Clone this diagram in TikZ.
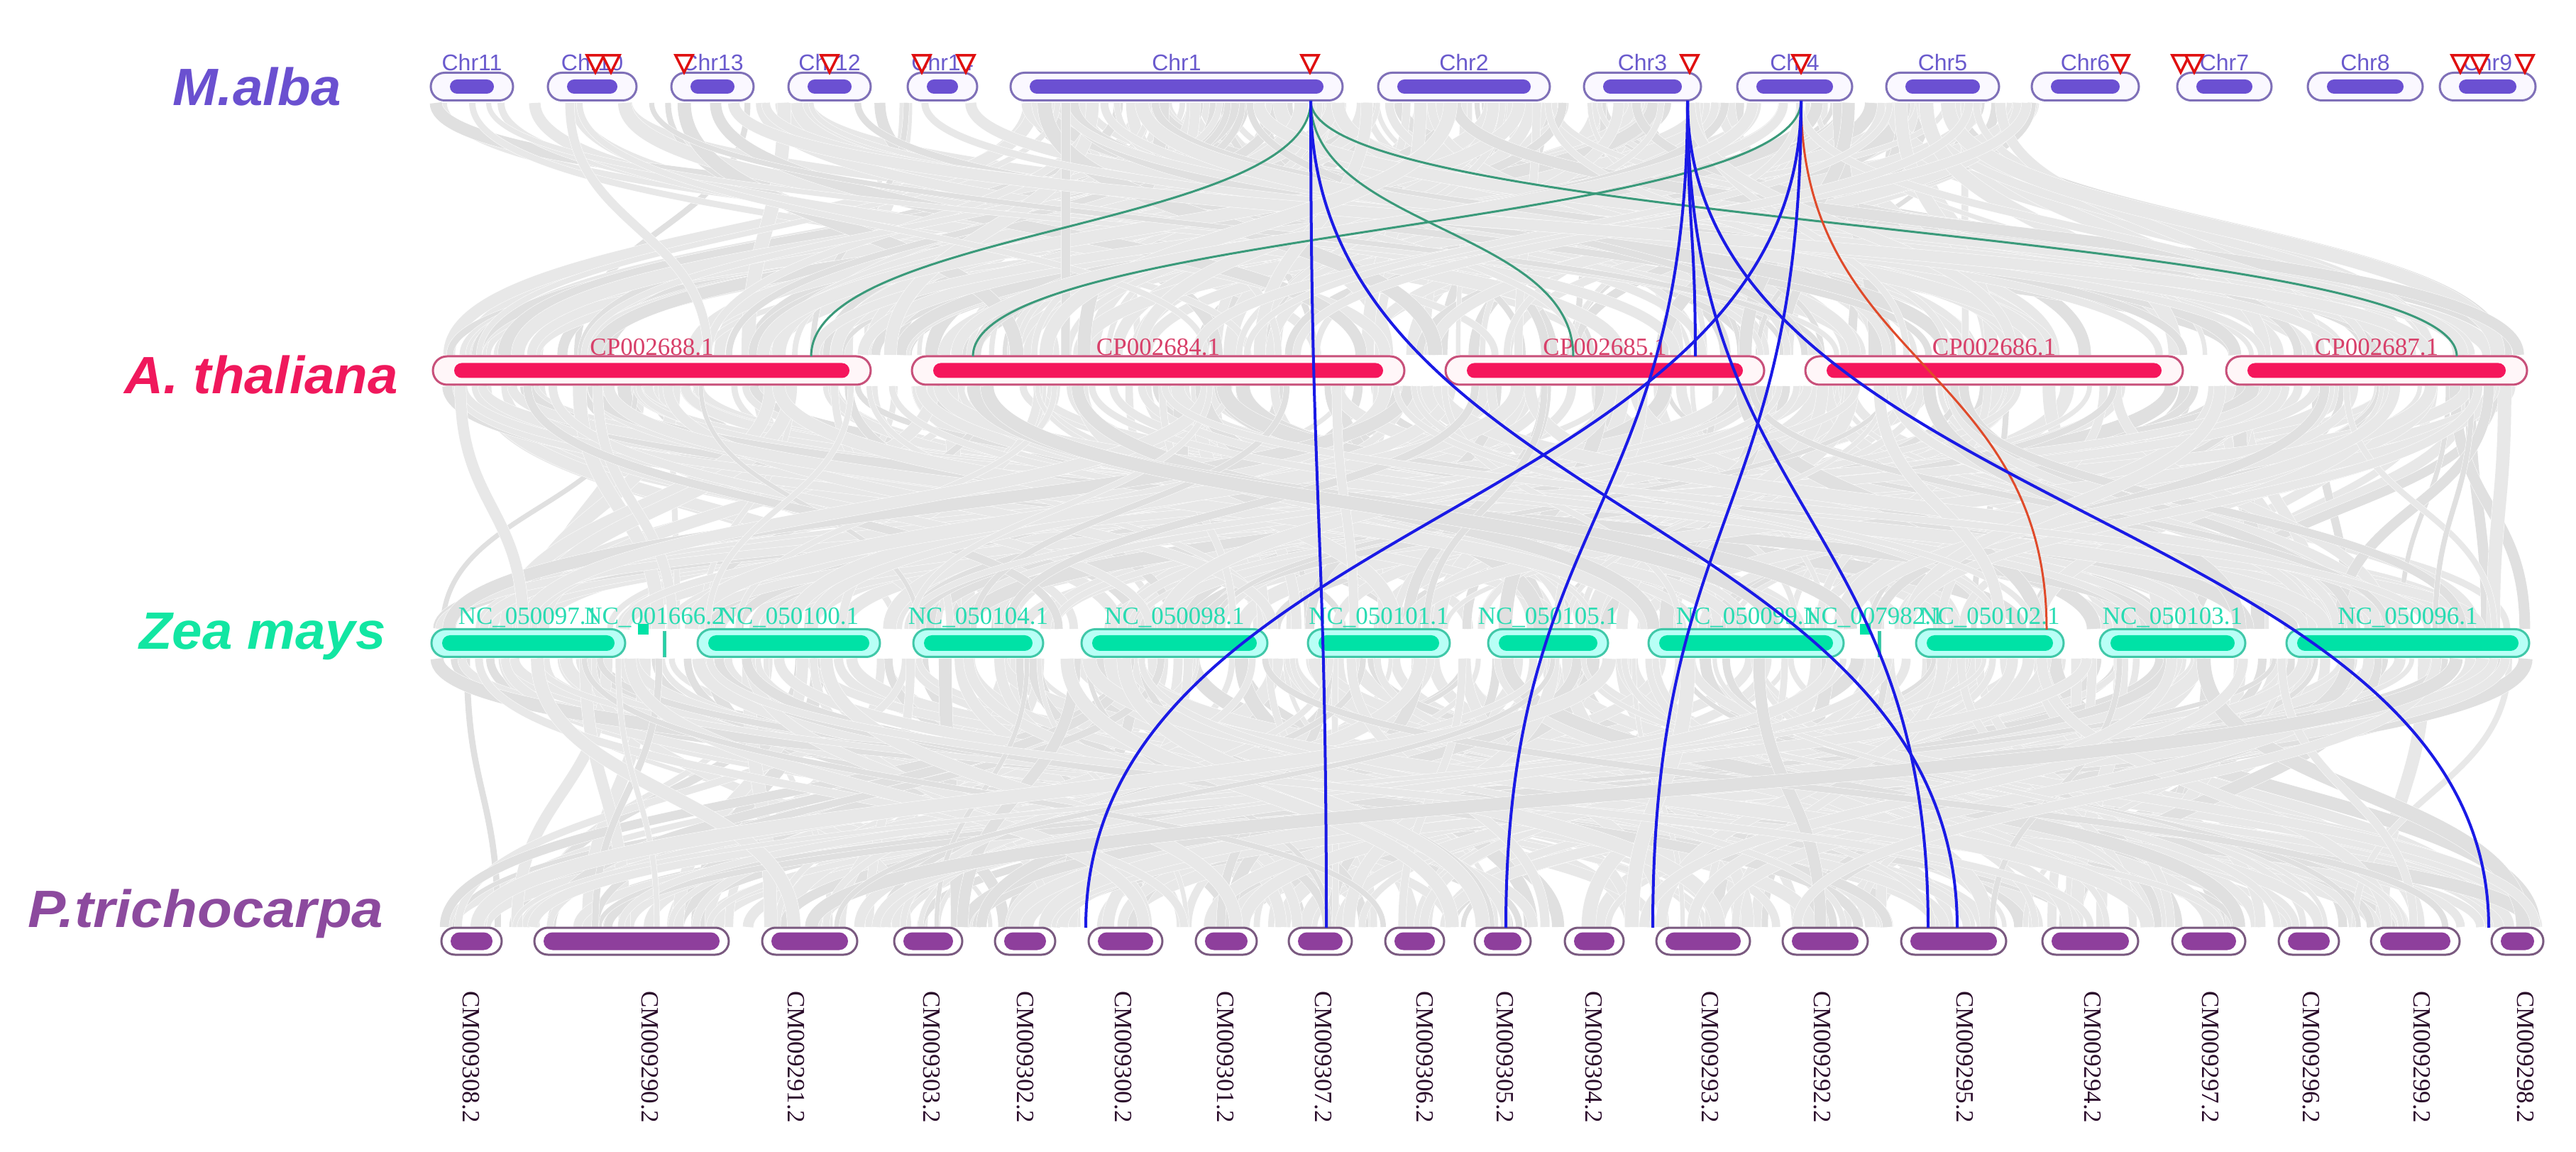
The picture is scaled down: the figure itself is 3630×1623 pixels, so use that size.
\documentclass[tikz,border=0pt]{standalone}
\usepackage{fontspec}
\setmainfont{Liberation Serif}
\newfontfamily\arialf{Liberation Sans}
\definecolor{caedge}{HTML}{7F70B8}\definecolor{cabg}{HTML}{FAF8FF}\definecolor{cafill}{HTML}{6B50D2}\definecolor{catxt}{HTML}{6A5ACD}\definecolor{casp}{HTML}{6A50D0}
\definecolor{cbedge}{HTML}{C8507A}\definecolor{cbbg}{HTML}{FFF6F8}\definecolor{cbfill}{HTML}{F5165C}\definecolor{cbtxt}{HTML}{D8406A}\definecolor{cbsp}{HTML}{F0185C}
\definecolor{ccedge}{HTML}{40C8A8}\definecolor{ccbg}{HTML}{B8FFF6}\definecolor{ccfill}{HTML}{00E2A6}\definecolor{cctxt}{HTML}{28DCB2}\definecolor{ccsp}{HTML}{12E6A2}
\definecolor{cdedge}{HTML}{7A5A80}\definecolor{cdbg}{HTML}{FFFFFF}\definecolor{cdfill}{HTML}{8E3F9C}\definecolor{cdtxt}{HTML}{2A0A2A}\definecolor{cdsp}{HTML}{8C4A9E}
\definecolor{lkblue}{HTML}{1A1AE6}\definecolor{lkgreen}{HTML}{3A9A7A}\definecolor{lkred}{HTML}{E04A2A}\definecolor{trired}{HTML}{E01010}
\definecolor{gband}{HTML}{E8E8E8}\definecolor{gbandd}{HTML}{E0E0E0}
\newcommand\mkchr[7]{%
  \pgfmathsetmacro\cxx{(#2+#3)/2}%
  \node[#5, minimum width={(#3-#2)*0.2pt}] (#1) at (\cxx,#4) {};%
  \node[#6, minimum width={(#3-#2-2*#7)*0.2pt}] (#1-in) at (\cxx,#4) {};%
}
\begin{document}
\begin{tikzpicture}[x=0.2pt,y=-0.2pt,
  glink/.style={draw=white, line width=0.1pt, double=gband},
  glinkd/.style={draw=white, line width=0.1pt, double=gbandd},
  aout/.style={draw=caedge, fill=cabg, line width=0.6pt, rounded corners=3.9pt, minimum height=7.8pt, inner sep=0pt},
  ain/.style={fill=cafill, rounded corners=2pt, minimum height=4pt, inner sep=0pt},
  bout/.style={draw=cbedge, fill=cbbg, line width=0.6pt, rounded corners=4pt, minimum height=8pt, inner sep=0pt},
  bin/.style={fill=cbfill, rounded corners=2.1pt, minimum height=4.2pt, inner sep=0pt},
  cout/.style={draw=ccedge, fill=ccbg, line width=0.6pt, rounded corners=3.9pt, minimum height=7.8pt, inner sep=0pt},
  cin/.style={fill=ccfill, rounded corners=2.2pt, minimum height=4.4pt, inner sep=0pt},
  dout/.style={draw=cdedge, fill=cdbg, line width=0.6pt, rounded corners=3.8pt, minimum height=7.6pt, inner sep=0pt},
  din/.style={fill=cdfill, rounded corners=2.5pt, minimum height=5pt, inner sep=0pt},
  alab/.style={font=\arialf\fontsize{6.4pt}{7pt}\selectfont, text=catxt, inner sep=0pt},
  blab/.style={font=\fontsize{7pt}{8pt}\selectfont, text=cbtxt, inner sep=0pt},
  clab/.style={font=\fontsize{7pt}{8pt}\selectfont, text=cctxt, inner sep=0pt},
  dlab/.style={font=\fontsize{7pt}{8pt}\selectfont, text=cdtxt, inner sep=0pt, rotate=-90, anchor=west},
  splab/.style={font=\arialf\bfseries\itshape\fontsize{14.8pt}{16pt}\selectfont, inner sep=0pt},
  bluelk/.style={draw=lkblue, line width=0.8pt},
  greenlk/.style={draw=lkgreen, line width=0.6pt},
  redlk/.style={draw=lkred, line width=0.6pt},
  tri/.style={draw=trired, fill=white, line width=0.7pt, line join=miter}
]
\useasboundingbox[fill=white] (0,0) rectangle (3630,1623);

% ---------- background gray synteny links ----------
\pgfmathsetseed{11}
\foreach \i in {1,...,240}{
  \pgfmathsetmacro\xa{ifthenelse(rnd<0.15, 612+rnd*760, 1430+rnd*1450)}
  \pgfmathsetmacro\xb{615+rnd*2940}
  \pgfmathsetmacro\w{1.2+rnd*2.8}
  \pgfmathsetmacro\sty{ifthenelse(rnd<0.3,"glinkd","glink")}
  \draw[\sty, double distance=\w pt] (\xa,145) .. controls (\xa,322) and (\xb,322) .. (\xb,500);
}
\foreach \i in {1,...,300}{
  \pgfmathsetmacro\xa{615+rnd*2940}
  \pgfmathsetmacro\xb{612+rnd*2950}
  \pgfmathsetmacro\w{1.2+rnd*2.8}
  \pgfmathsetmacro\sty{ifthenelse(rnd<0.3,"glinkd","glink")}
  \draw[\sty, double distance=\w pt] (\xa,544) .. controls (\xa,715) and (\xb,715) .. (\xb,886);
}
\foreach \i in {1,...,300}{
  \pgfmathsetmacro\xa{612+rnd*2950}
  \pgfmathsetmacro\xb{625+rnd*2955}
  \pgfmathsetmacro\w{1.2+rnd*2.8}
  \pgfmathsetmacro\sty{ifthenelse(rnd<0.3,"glinkd","glink")}
  \draw[\sty, double distance=\w pt] (\xa,928) .. controls (\xa,1117) and (\xb,1117) .. (\xb,1306);
}

% ---------- species labels ----------
\node[splab, text=casp, xscale=1.03] (spA) at (362,122) {M.alba};
\node[splab, text=cbsp, xscale=1.03] (spB) at (368,528) {A. thaliana};
\node[splab, text=ccsp, xscale=1.03] (spC) at (370,897) {Zea mays};
\node[splab, text=cdsp, xscale=1.08] (spD) at (290,1287) {P.trichocarpa};

% ---------- M. alba chromosomes ----------
\foreach \nm/\a/\b/\t in {c11/607/723/Chr11, c10/772/897/Chr10, c13/946/1062/Chr13, c12/1111/1227/Chr12, c14/1279/1377/Chr14, c1/1424/1892/Chr1, c2/1942/2184/Chr2, c3/2232/2397/Chr3, c4/2448/2610/Chr4, c5/2658/2817/Chr5, c6/2863/3014/Chr6, c7/3068/3201/Chr7, c8/3252/3414/Chr8, c9/3438/3573/Chr9}{
  \mkchr{\nm}{\a}{\b}{122}{aout}{ain}{27}
  \node[alab] (\nm-lab) at ({(\a+\b)/2},88) {\t};
}

% ---------- A. thaliana chromosomes ----------
\foreach \nm/\a/\b/\t in {t88/610/1227/CP002688.1, t84/1285/1979/CP002684.1, t85/2037/2486/CP002685.1, t86/2544/3076/CP002686.1, t87/3137/3561/CP002687.1}{
  \mkchr{\nm}{\a}{\b}{522}{bout}{bin}{30}
  \node[blab] (\nm-lab) at ({(\a+\b)/2},489) {\t};
}

% ---------- Zea mays chromosomes ----------
\foreach \nm/\a/\b/\t in {z97/608/881/NC\_050097.1, z100/983/1240/NC\_050100.1, z104/1287/1470/NC\_050104.1, z98/1524/1786/NC\_050098.1, z101/1843/2043/NC\_050101.1, z105/2097/2266/NC\_050105.1, z99/2323/2598/NC\_050099.1, z102/2700/2908/NC\_050102.1, z103/2959/3164/NC\_050103.1, z96/3222/3564/NC\_050096.1}{
  \mkchr{\nm}{\a}{\b}{906}{cout}{cin}{15}
  \node[clab] (\nm-lab) at ({(\a+\b)/2},870) {\t};
}
\node[draw=ccedge, fill=ccfill, line width=0.4pt, minimum width=0.6pt, minimum height=7pt, inner sep=0pt] (z1666) at (936,908) {};
\node[fill=ccfill, minimum size=3pt, inner sep=0pt] (z1666t) at (906,887) {};
\node[clab] (z1666-lab) at (922,870) {NC\_001666.2};
\node[draw=ccedge, fill=ccfill, line width=0.4pt, minimum width=0.6pt, minimum height=7pt, inner sep=0pt] (z7982) at (2648,908) {};
\node[fill=ccfill, minimum size=3pt, inner sep=0pt] (z7982t) at (2628,887) {};
\node[clab] (z7982-lab) at (2640,870) {NC\_007982.1};

% ---------- P. trichocarpa chromosomes ----------
\foreach \nm/\a/\b/\lx/\t in {p308/622/707/664/CM009308.2, p290/753/1027/916/CM009290.2, p291/1074/1208/1122/CM009291.2, p303/1260/1356/1313/CM009303.2, p302/1402/1487/1445/CM009302.2, p300/1534/1638/1583/CM009300.2, p301/1685/1771/1727/CM009301.2, p307/1816/1905/1865/CM009307.2, p306/1952/2035/2008/CM009306.2, p305/2078/2157/2121/CM009305.2, p304/2205/2288/2246/CM009304.2, p293/2334/2466/2410/CM009293.2, p292/2512/2632/2568/CM009292.2, p295/2679/2827/2769/CM009295.2, p294/2878/3013/2949/CM009294.2, p297/3061/3164/3115/CM009297.2, p296/3211/3296/3257/CM009296.2, p299/3341/3466/3413/CM009299.2, p298/3511/3584/3559/CM009298.2}{
  \mkchr{\nm}{\a}{\b}{1326}{dout}{din}{13}
  \node[dlab] (\nm-lab) at (\lx,1395) {\t};
}

% ---------- highlighted links ----------
\coordinate (m1) at (1847,142);
\coordinate (m3) at (2378,142);
\coordinate (m4) at (2538,142);
\coordinate (a88) at (1143,502);
\coordinate (a84) at (1371,502);
\coordinate (a85g) at (2217,502);
\coordinate (a85b) at (2389,502);
\coordinate (a87) at (3462,502);
\coordinate (zz102) at (2884,887);
\coordinate (q300) at (1530,1307);
\coordinate (q307) at (1869,1307);
\coordinate (q305) at (2122,1307);
\coordinate (q293) at (2329,1307);
\coordinate (q295a) at (2717,1307);
\coordinate (q295b) at (2758,1307);
\coordinate (q298) at (3507,1307);

\draw[greenlk] (m1) .. controls +(0,180) and +(0,-180) .. (a88);
\draw[greenlk] (m4) .. controls +(0,180) and +(0,-180) .. (a84);
\draw[greenlk] (m1) .. controls +(0,180) and +(0,-180) .. (a85g);
\draw[greenlk] (m1) .. controls +(0,180) and +(0,-180) .. (a87);
\draw[redlk] (m4) .. controls +(0,372) and +(0,-372) .. (zz102);
\draw[bluelk] (m3) .. controls +(0,180) and +(0,-180) .. (a85b);
\draw[bluelk] (m1) .. controls +(0,582) and +(0,-582) .. (q307);
\draw[bluelk] (m1) .. controls +(0,582) and +(0,-582) .. (q295b);
\draw[bluelk] (m3) .. controls +(0,582) and +(0,-582) .. (q305);
\draw[bluelk] (m3) .. controls +(0,582) and +(0,-582) .. (q295a);
\draw[bluelk] (m3) .. controls +(0,582) and +(0,-582) .. (q298);
\draw[bluelk] (m4) .. controls +(0,582) and +(0,-582) .. (q293);
\draw[bluelk] (m4) .. controls +(0,582) and +(0,-582) .. (q300);

% ---------- gene markers (red triangles) ----------
\foreach \tx in {839,861,964,1169,1299,1361,1846,2381,2538,2988,3073,3092,3467,3494,3558}{
  \draw[tri] (\tx-12,78) -- (\tx+12,78) -- (\tx,102) -- cycle;
}
\end{tikzpicture}
\end{document}
